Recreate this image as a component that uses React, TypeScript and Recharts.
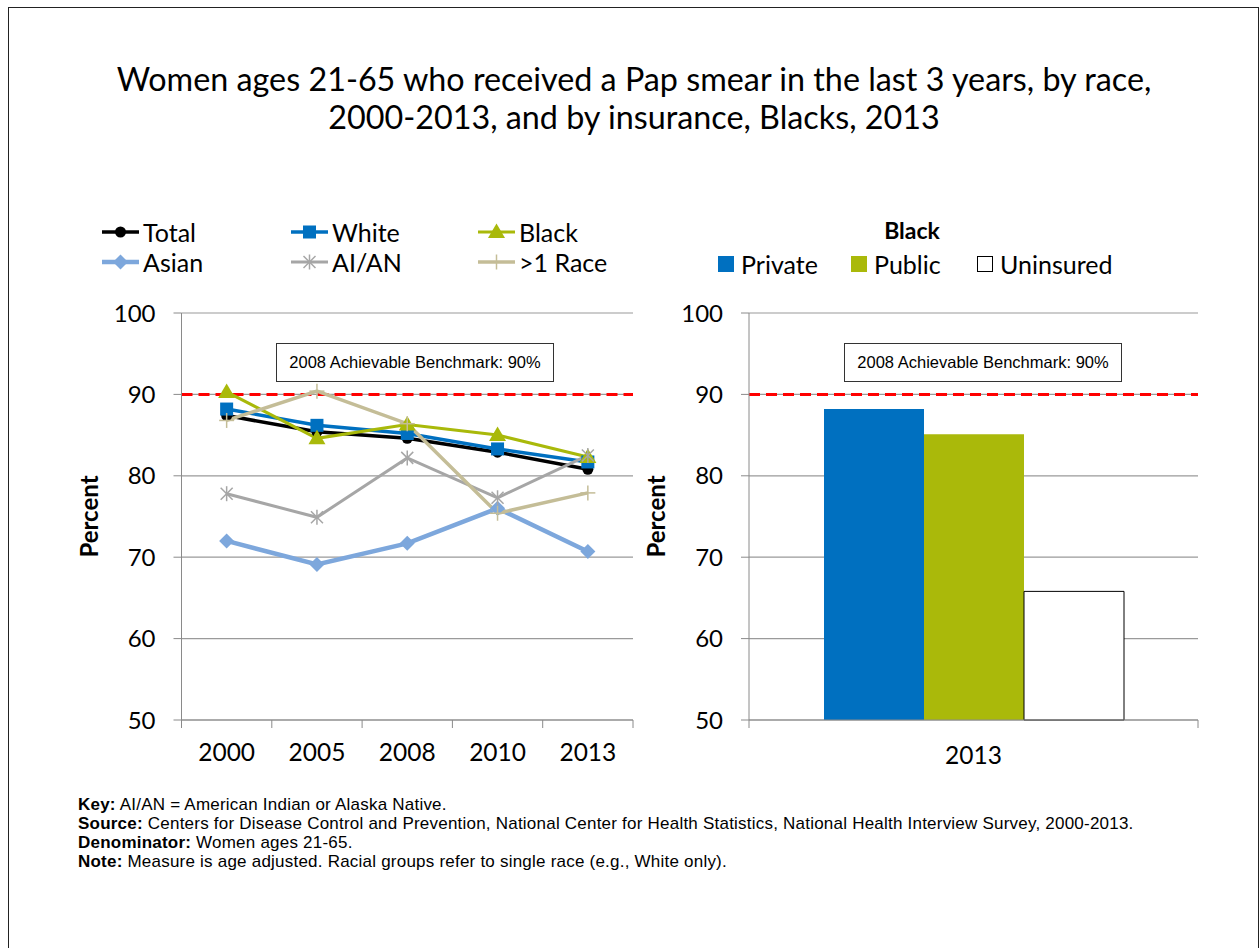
import React from 'react';
import { LineChart, Line, XAxis, YAxis, CartesianGrid, ReferenceLine, BarChart, Bar } from 'recharts';

// ---------- data ----------
const years = ['2000', '2005', '2008', '2010', '2013'];
const totalValues = [87.4, 85.4, 84.6, 82.9, 80.8];
const whiteValues = [88.2, 86.2, 85.2, 83.3, 81.7];
const blackValues = [90.3, 84.6, 86.3, 85.0, 82.3];
const asianValues = [72.0, 69.1, 71.7, 76.0, 70.7];
const aianValues = [77.8, 74.9, 82.2, 77.3, 82.5];
const multiRaceValues = [86.8, 90.4, 86.4, 75.4, 77.9];

const insuranceYears = ['2013'];
const privateValues = [88.2];
const publicValues = [85.1];
const uninsuredValues = [65.8];

const benchmarkValue = 90;
const benchmarkText = '2008 Achievable Benchmark: 90%';
const yTicks = [50, 60, 70, 80, 90, 100];
const yDomain: [number, number] = [50, 100];

// ---------- styles ----------
const CAL = 'Lato, "Open Sans", sans-serif';
const ARIAL = '"Liberation Sans", Arial, sans-serif';
const GRID = '#9a9a9a';
const AXIS = '#8a8a8a';

type Shape = 'circle' | 'square' | 'triangle' | 'diamond' | 'star' | 'plus';
const raceSeries: { name: string; values: number[]; color: string; shape: Shape; width: number }[] = [
  { name: 'Total', values: totalValues, color: '#000000', shape: 'circle', width: 3.5 },
  { name: 'White', values: whiteValues, color: '#0070C0', shape: 'square', width: 3.5 },
  { name: 'Black', values: blackValues, color: '#A9B90A', shape: 'triangle', width: 3 },
  { name: 'Asian', values: asianValues, color: '#7DA7DC', shape: 'diamond', width: 4.5 },
  { name: 'AI/AN', values: aianValues, color: '#A6A6A6', shape: 'star', width: 3 },
  { name: '>1 Race', values: multiRaceValues, color: '#C4BD97', shape: 'plus', width: 3.5 },
];

const insuranceSeries = [
  { name: 'Private', values: privateValues, fill: '#0070C0', stroke: 'none' },
  { name: 'Public', values: publicValues, fill: '#AAB90A', stroke: 'none' },
  { name: 'Uninsured', values: uninsuredValues, fill: '#FFFFFF', stroke: '#000000' },
];

const lineData = years.map((y, i) => {
  const row: Record<string, number | string> = { x: i + 0.5, year: y };
  raceSeries.forEach((s) => (row[s.name] = s.values[i]));
  return row;
});

const barData = insuranceYears.map((y, i) => {
  const row: Record<string, number | string> = { year: y };
  insuranceSeries.forEach((s) => (row[s.name] = s.values[i]));
  return row;
});

const xTicksLeft = Array.from({ length: years.length * 2 + 1 }, (_, k) => k / 2);

function marker(shape: Shape, cx: number, cy: number, color: string, key?: string) {
  switch (shape) {
    case 'circle':
      return <circle key={key} cx={cx} cy={cy} r={5.5} fill={color} />;
    case 'square':
      return <rect key={key} x={cx - 6.5} y={cy - 6.5} width={13} height={13} fill={color} />;
    case 'triangle':
      return <polygon key={key} points={`${cx},${cy - 8.5} ${cx + 8.5},${cy + 6} ${cx - 8.5},${cy + 6}`} fill={color} />;
    case 'diamond':
      return <polygon key={key} points={`${cx},${cy - 7.5} ${cx + 7.5},${cy} ${cx},${cy + 7.5} ${cx - 7.5},${cy}`} fill={color} />;
    case 'star':
      return (
        <g key={key} stroke={color} strokeWidth={1.5}>
          <line x1={cx - 6} y1={cy - 6} x2={cx + 6} y2={cy + 6} />
          <line x1={cx - 6} y1={cy + 6} x2={cx + 6} y2={cy - 6} />
          <line x1={cx} y1={cy - 7.5} x2={cx} y2={cy + 7.5} />
        </g>
      );
    case 'plus':
    default:
      return (
        <g key={key} stroke={color} strokeWidth={1.5}>
          <line x1={cx - 7.5} y1={cy} x2={cx + 7.5} y2={cy} />
          <line x1={cx} y1={cy - 7.5} x2={cx} y2={cy + 7.5} />
        </g>
      );
  }
}

const LeftXTick = (props: any) => {
  const { x, y, payload } = props;
  const v = payload.value as number;
  if (Math.abs(v - Math.round(v)) < 1e-6) {
    return <line x1={x} x2={x} y1={y} y2={y + 8} stroke={AXIS} strokeWidth={1} />;
  }
  return (
    <text x={x} y={y + 41} textAnchor="middle" fontFamily={CAL} fontSize={24.5} fill="#000">
      {years[Math.floor(v)]}
    </text>
  );
};

const RIGHT_PLOT_W = 449;
const RightXTick = (props: any) => {
  const { x, y, payload } = props;
  const half = payload && typeof payload.offset === 'number' && payload.offset > 0 ? payload.offset : RIGHT_PLOT_W / insuranceYears.length / 2;
  return (
    <g>
      <line x1={x - half} x2={x - half} y1={y} y2={y + 8} stroke={AXIS} />
      <line x1={x + half} x2={x + half} y1={y} y2={y + 8} stroke={AXIS} />
      <text x={x} y={y + 44} textAnchor="middle" fontFamily={CAL} fontSize={24.5} fill="#000">
        {payload.value}
      </text>
    </g>
  );
};

const percentLabel = (dx: number) => (props: any) => {
  const vb = props.viewBox || {};
  const cx = vb.x + vb.width - dx;
  const cy = vb.y + vb.height / 2;
  return (
    <text x={cx} y={cy} transform={`rotate(-90 ${cx} ${cy})`} textAnchor="middle" dominantBaseline="central" fontFamily={CAL} fontWeight="bold" fontSize={24} fill="#000">
      Percent
    </text>
  );
};

const yTickStyle = { fontFamily: CAL, fontSize: 24, fill: '#000' };

const BenchmarkBox = ({ left, top }: { left: number; top: number }) => (
  <div
    style={{
      position: 'absolute',
      left,
      top,
      width: 278,
      height: 39,
      boxSizing: 'border-box',
      border: '1px solid #333',
      background: '#fff',
      fontFamily: ARIAL,
      fontSize: 16.5,
      display: 'flex',
      alignItems: 'center',
      justifyContent: 'center',
      whiteSpace: 'nowrap',
    }}
  >
    {benchmarkText}
  </div>
);

const legendPos = [
  { left: 102, top: 218 },
  { left: 291, top: 218 },
  { left: 478, top: 218 },
  { left: 102, top: 248 },
  { left: 291, top: 248 },
  { left: 478, top: 248 },
];

const barLegendPos = [718, 851, 977];

export default function App() {
  return (
    <div style={{ position: 'absolute', left: 0, top: 0, width: 1260, height: 948, background: '#fff', overflow: 'hidden' }}>
      <div style={{ position: 'absolute', left: 8, top: 7, width: 1251, height: 960, boxSizing: 'border-box', border: '1px solid #222' }} />

      <div
        style={{
          position: 'absolute',
          left: 0,
          top: 60,
          width: 1268,
          textAlign: 'center',
          fontFamily: CAL,
          fontSize: 32.3,
          lineHeight: '38px',
          color: '#000',
        }}
      >
        Women ages 21-65 who received a Pap smear in the last 3 years, by race,
        <br />
        2000-2013, and by insurance, Blacks, 2013
      </div>

      {/* left legend */}
      {raceSeries.map((s, i) => (
        <div key={s.name} style={{ position: 'absolute', left: legendPos[i].left, top: legendPos[i].top, height: 28, display: 'flex', alignItems: 'center' }}>
          <svg width={37} height={28} style={{ display: 'block' }}>
            <line x1={0} x2={37} y1={14} y2={14} stroke={s.color} strokeWidth={s.width} />
            {marker(s.shape, 18.5, 14, s.color)}
          </svg>
          <span style={{ fontFamily: CAL, fontSize: 25, marginLeft: 4, lineHeight: '28px', color: '#000' }}>{s.name}</span>
        </div>
      ))}

      {/* right legend */}
      <div style={{ position: 'absolute', left: 862, width: 100, top: 216, textAlign: 'center', fontFamily: CAL, fontWeight: 'bold', fontSize: 23, lineHeight: '28px' }}>
        Black
      </div>
      {insuranceSeries.map((s, i) => (
        <div key={s.name} style={{ position: 'absolute', left: barLegendPos[i], top: 250, height: 28, display: 'flex', alignItems: 'center' }}>
          <div style={{ width: 16, height: 16, boxSizing: 'border-box', background: s.fill, border: s.stroke === 'none' ? 'none' : `1px solid ${s.stroke}` }} />
          <span style={{ fontFamily: CAL, fontSize: 25, marginLeft: 7, lineHeight: '28px' }}>{s.name}</span>
        </div>
      ))}

      {/* left chart */}
      <div style={{ position: 'absolute', left: 0, top: 280 }}>
        <LineChart width={660} height={500} data={lineData} margin={{ top: 33, right: 27, bottom: 0, left: 0 }}>
          <CartesianGrid vertical={false} stroke={GRID} strokeWidth={1.2} />
          <XAxis
            type="number"
            dataKey="x"
            domain={[0, years.length]}
            ticks={xTicksLeft}
            interval={0}
            tickLine={false}
            tickSize={0}
            tickMargin={0}
            height={60}
            axisLine={{ stroke: AXIS }}
            tick={<LeftXTick />}
          />
          <YAxis
            domain={yDomain}
            ticks={yTicks}
            interval={0}
            width={181.5}
            tickSize={8}
            tickMargin={18}
            axisLine={{ stroke: AXIS }}
            tickLine={{ stroke: AXIS }}
            tick={yTickStyle}
            label={{ content: percentLabel(93.5) } as any}
          />
          <ReferenceLine y={benchmarkValue} stroke="#FF0000" strokeWidth={3} strokeDasharray="11 6" />
          {raceSeries.map((s) => (
            <Line
              key={s.name}
              dataKey={s.name}
              stroke={s.color}
              strokeWidth={s.width}
              isAnimationActive={false}
              dot={(p: any) => marker(s.shape, p.cx, p.cy, s.color, `${s.name}-${p.index}`)}
              activeDot={false}
            />
          ))}
        </LineChart>
      </div>

      {/* right chart */}
      <div style={{ position: 'absolute', left: 640, top: 280 }}>
        <BarChart width={620} height={500} data={barData} margin={{ top: 33, right: 62, bottom: 0, left: 0 }} barGap={0}>
          <CartesianGrid vertical={false} stroke={GRID} strokeWidth={1.2} />
          <XAxis dataKey="year" tickLine={false} tickSize={0} tickMargin={0} height={60} axisLine={{ stroke: AXIS }} tick={<RightXTick />} interval={0} />
          <YAxis
            domain={yDomain}
            ticks={yTicks}
            interval={0}
            width={109}
            tickSize={8}
            tickMargin={18}
            axisLine={{ stroke: AXIS }}
            tickLine={{ stroke: AXIS }}
            tick={yTickStyle}
            label={{ content: percentLabel(94) } as any}
          />
          <ReferenceLine y={benchmarkValue} stroke="#FF0000" strokeWidth={3} strokeDasharray="11 6" />
          {insuranceSeries.map((s) => (
            <Bar key={s.name} dataKey={s.name} fill={s.fill} stroke={s.stroke} strokeWidth={1} barSize={100} isAnimationActive={false} />
          ))}
        </BarChart>
      </div>

      <BenchmarkBox left={276} top={343} />
      <BenchmarkBox left={844} top={343} />

      <div style={{ position: 'absolute', left: 78, top: 795, fontFamily: ARIAL, fontSize: 17, letterSpacing: '0.22px', lineHeight: '19px', color: '#000', whiteSpace: 'nowrap' }}>
        <div><b>Key:</b> AI/AN = American Indian or Alaska Native.</div>
        <div><b>Source:</b> Centers for Disease Control and Prevention, National Center for Health Statistics, National Health Interview Survey, 2000-2013.</div>
        <div><b>Denominator:</b> Women ages 21-65.</div>
        <div><b>Note:</b> Measure is age adjusted. Racial groups refer to single race (e.g., White only).</div>
      </div>
    </div>
  );
}
